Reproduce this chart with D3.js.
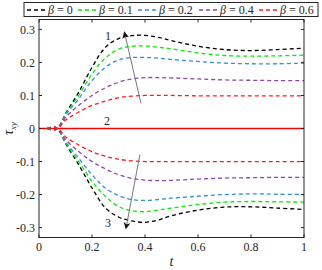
<!DOCTYPE html>
<html>
<head>
<meta charset="utf-8">
<script src="https://cdn.jsdelivr.net/npm/d3@7"></script>
<style>
  body { margin: 0; background: #fff; }
</style>
</head>
<body>
<script>
var w = 322
var h = 270

// data
var tUp   = [0.03, 0.06, 0.08, 0.1, 0.15, 0.2, 0.25, 0.3, 0.35, 0.4, 0.45, 0.5, 0.6, 0.7, 0.8, 0.9, 1.0]
var betas = ["0", "0.1", "0.2", "0.4", "0.6"]
var colors = ["#000000", "#00ee00", "#2f8fd8", "#8e44ad", "#ff1a1a"]

var upper = [
  [0, -0.004, 0.012, 0.045, 0.11, 0.185, 0.245, 0.272, 0.281, 0.282, 0.276, 0.266, 0.249, 0.239, 0.236, 0.239, 0.243],
  [0, -0.004, 0.011, 0.043, 0.10, 0.165, 0.213, 0.240, 0.249, 0.250, 0.246, 0.241, 0.229, 0.221, 0.219, 0.220, 0.222],
  [0, -0.004, 0.010, 0.040, 0.09, 0.145, 0.185, 0.208, 0.215, 0.215, 0.213, 0.209, 0.203, 0.198, 0.196, 0.196, 0.198],
  [0, -0.004, 0.009, 0.033, 0.07, 0.100, 0.123, 0.140, 0.150, 0.154, 0.154, 0.153, 0.150, 0.147, 0.146, 0.145, 0.145],
  [0, -0.004, 0.007, 0.025, 0.05, 0.070, 0.083, 0.093, 0.098, 0.100, 0.100, 0.100, 0.099, 0.099, 0.099, 0.099, 0.099]
]
var lower = [
  [0, 0.004, -0.012, -0.045, -0.11, -0.18, -0.24, -0.268, -0.28, -0.284, -0.277, -0.264, -0.247, -0.238, -0.237, -0.241, -0.245],
  [0, 0.004, -0.011, -0.043, -0.10, -0.16, -0.205, -0.236, -0.249, -0.252, -0.247, -0.241, -0.230, -0.223, -0.221, -0.222, -0.223],
  [0, 0.004, -0.010, -0.040, -0.09, -0.14, -0.18, -0.203, -0.215, -0.218, -0.215, -0.211, -0.205, -0.200, -0.198, -0.199, -0.200],
  [0, 0.004, -0.009, -0.033, -0.07, -0.10, -0.122, -0.14, -0.151, -0.156, -0.158, -0.157, -0.153, -0.150, -0.149, -0.148, -0.148],
  [0, 0.004, -0.007, -0.025, -0.05, -0.07, -0.084, -0.093, -0.098, -0.100, -0.100, -0.100, -0.100, -0.100, -0.100, -0.100, -0.100]
]
var zeroT = [0, 1]
var zeroV = [0, 0]

var xTicks = [0, 0.2, 0.4, 0.6, 0.8, 1]
var yTicks = [-0.3, -0.2, -0.1, 0, 0.1, 0.2, 0.3]

// arrows: [tail t, tail v, head t, head v]
var arrows = [[0.385, 0.076, 0.322, 0.292], [0.381, -0.079, 0.328, -0.303]]
var notes = [["1", 0.26, 0.282], ["2", 0.257, 0.024], ["3", 0.26, -0.285]]

var pl = 39, pr = 304, pt = 19.5, pb = 237.5

var x = d3.scaleLinear().domain([0, 1]).range([pl, pr])
var y = d3.scaleLinear().domain([-0.33, 0.33]).range([pb, pt])

var svg = d3.select("body").append("svg")
  .attr("width", w)
  .attr("height", h)
  .attr("font-family", "'Liberation Serif', 'Times New Roman', serif")
  .attr("fill", "#262626")

svg.append("defs").append("marker")
  .attr("id", "head")
  .attr("viewBox", "0 0 10 10")
  .attr("refX", 9).attr("refY", 5)
  .attr("markerWidth", 8).attr("markerHeight", 7)
  .attr("markerUnits", "userSpaceOnUse")
  .attr("orient", "auto")
  .append("path")
  .attr("d", "M0,0 L10,5 L0,10 L3,5 Z")
  .attr("fill", "#111")

var line = d3.line()
  .x(function (d) { return x(d[0]) })
  .y(function (d) { return y(d[1]) })
  .curve(d3.curveCatmullRom)

var g = svg.append("g")

// zero line
g.append("path")
  .attr("d", line(zeroT.map(function (t, i) { return [t, zeroV[i]] })))
  .attr("fill", "none")
  .attr("stroke", "#ff0000")
  .attr("stroke-width", 1.5)

function drawSet(set) {
  set.forEach(function (vals, k) {
    g.append("path")
      .attr("d", line(tUp.map(function (t, i) { return [t, vals[i]] })))
      .attr("fill", "none")
      .attr("stroke", colors[k])
      .attr("stroke-width", 1.3)
      .attr("stroke-dasharray", "4,3")
  })
}
drawSet(upper)
drawSet(lower)

// arrows
arrows.forEach(function (a) {
  g.append("line")
    .attr("x1", x(a[0])).attr("y1", y(a[1]))
    .attr("x2", x(a[2])).attr("y2", y(a[3]))
    .attr("stroke", "#777")
    .attr("stroke-width", 1)
    .attr("marker-end", "url(#head)")
})

notes.forEach(function (n) {
  g.append("text")
    .attr("x", x(n[1])).attr("y", y(n[2]))
    .attr("text-anchor", "middle")
    .attr("dy", "0.35em")
    .attr("font-size", 12)
    .text(n[0])
})

// frame with inward ticks
var ax = svg.append("g").attr("stroke", "#262626").attr("stroke-width", 1)
ax.append("rect")
  .attr("x", pl).attr("y", pt)
  .attr("width", pr - pl).attr("height", pb - pt)
  .attr("fill", "none")
xTicks.forEach(function (t) {
  ax.append("line").attr("x1", x(t)).attr("x2", x(t)).attr("y1", pb).attr("y2", pb - 3)
  ax.append("line").attr("x1", x(t)).attr("x2", x(t)).attr("y1", pt).attr("y2", pt + 3)
})
yTicks.forEach(function (v) {
  ax.append("line").attr("x1", pl).attr("x2", pl + 3).attr("y1", y(v)).attr("y2", y(v))
  ax.append("line").attr("x1", pr).attr("x2", pr - 3).attr("y1", y(v)).attr("y2", y(v))
})

svg.selectAll("text.xt").data(xTicks).enter().append("text")
  .attr("class", "xt")
  .attr("x", function (d) { return x(d) })
  .attr("y", 251)
  .attr("text-anchor", "middle")
  .attr("font-size", 12)
  .text(function (d) { return d })

svg.selectAll("text.yt").data(yTicks).enter().append("text")
  .attr("class", "yt")
  .attr("x", 35)
  .attr("y", function (d) { return y(d) })
  .attr("dy", "0.35em")
  .attr("text-anchor", "end")
  .attr("font-size", 12)
  .text(function (d) { return d })

svg.append("text")
  .attr("x", x(0.5)).attr("y", 266)
  .attr("text-anchor", "middle")
  .attr("font-size", 14).attr("font-style", "italic")
  .text("t")

var yl = svg.append("text")
  .attr("transform", "translate(13," + y(0) + ") rotate(-90)")
  .attr("text-anchor", "middle")
  .attr("font-size", 14).attr("font-style", "italic")
yl.append("tspan").text("τ")
yl.append("tspan").attr("dy", 3).attr("font-size", 9).text("xy")

// legend
var lg = svg.append("g")
lg.append("rect")
  .attr("x", 24).attr("y", 2.5).attr("width", 294).attr("height", 14)
  .attr("fill", "#fff").attr("stroke", "#262626").attr("stroke-width", 1)
var legX = [27, 78, 138, 199, 259]
betas.forEach(function (b, i) {
  lg.append("line")
    .attr("x1", legX[i]).attr("x2", legX[i] + 20)
    .attr("y1", 10).attr("y2", 10)
    .attr("stroke", colors[i]).attr("stroke-width", 1.3)
    .attr("stroke-dasharray", "4,3")
  var t = lg.append("text")
    .attr("x", legX[i] + 21).attr("y", 10).attr("dy", "0.35em")
    .attr("font-size", 12)
  t.append("tspan").attr("font-style", "italic").text("β")
  t.append("tspan").text(" = " + b)
})
</script>
</body>
</html>
